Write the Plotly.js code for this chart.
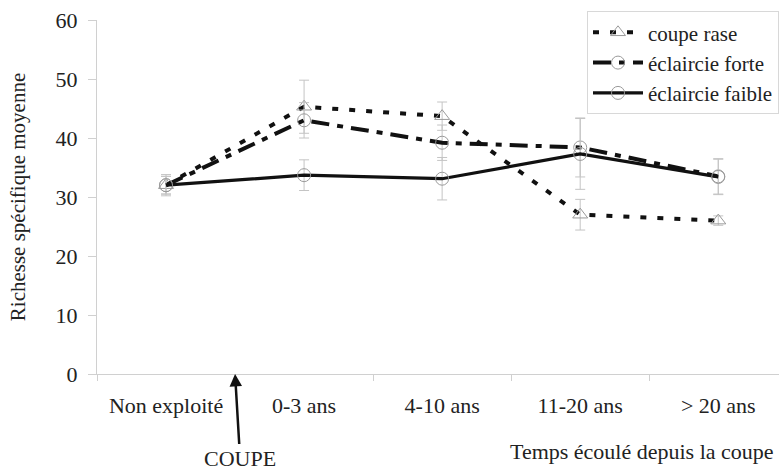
<!DOCTYPE html>
<html>
<head>
<meta charset="utf-8">
<script src="https://cdn.plot.ly/plotly-3.0.1.min.js"></script>
<style>html,body{margin:0;padding:0;background:#fff;}#chart{width:779px;height:472px;}</style>
</head>
<body>
<div id="chart"></div>
<script>
var categories = ["Non exploité", "0-3 ans", "4-10 ans", "11-20 ans", "> 20 ans"];
var coupeRase = [32, 45.3, 43.7, 27, 26];
var coupeRaseErr = [1.8, 4.5, 2.4, 2.6, 0.8];
var eclForte = [32, 43, 39.2, 38.4, 33.5];
var eclForteErr = [1.5, 3, 3, 5, 3];
var eclFaible = [32, 33.7, 33.1, 37.3, 33.4];
var eclFaibleErr = [1.5, 2.6, 3.6, 6, 3];
var yTicks = [0, 10, 20, 30, 40, 50, 60];

var serif = "'Liberation Serif', 'Times New Roman', serif";
var errStyle = function (arr) {
  return {type: "data", array: arr, visible: true, color: "#c4c4c4", thickness: 1, width: 5};
};

var traces = [
  {
    x: categories, y: coupeRase, name: "coupe rase", type: "scatter", mode: "lines+markers",
    line: {color: "#111", width: 4, dash: "6px,11px"},
    marker: {symbol: "triangle-up-open", size: 13, color: "#9a9a9a", line: {width: 1}},
    error_y: errStyle(coupeRaseErr)
  },
  {
    x: categories, y: eclForte, name: "éclaircie forte", type: "scatter", mode: "lines+markers",
    line: {color: "#111", width: 4, dash: "18px,8px,6px,8px"},
    marker: {symbol: "circle-open", size: 13, color: "#9a9a9a", line: {width: 1}},
    error_y: errStyle(eclForteErr)
  },
  {
    x: categories, y: eclFaible, name: "éclaircie faible", type: "scatter", mode: "lines+markers",
    line: {color: "#111", width: 3.2},
    marker: {symbol: "circle-open", size: 13, color: "#9a9a9a", line: {width: 1}},
    error_y: errStyle(eclFaibleErr)
  }
];

var layout = {
  width: 779, height: 472,
  margin: {l: 97, r: 0, t: 20, b: 98},
  paper_bgcolor: "#fff", plot_bgcolor: "#fff",
  font: {family: serif, size: 22, color: "#222"},
  showlegend: true,
  legend: {
    x: 1, xanchor: "right", y: 1.025, yanchor: "top",
    bgcolor: "#fff", bordercolor: "#d8d8d8", borderwidth: 1,
    font: {family: serif, size: 21, color: "#222"},
    tracegroupgap: 0, itemwidth: 50
  },
  xaxis: {
    type: "category", range: [-0.5, 4.44],
    showgrid: false, zeroline: false,
    showline: true, linecolor: "#d0d0d0", linewidth: 1,
    ticks: "outside", tickson: "boundaries", ticklen: 6, tickcolor: "#d0d0d0",
    ticklabelstandoff: 12,
    tickfont: {family: serif, size: 22, color: "#222"}
  },
  yaxis: {
    range: [0, 60], tickvals: yTicks,
    showgrid: false, zeroline: false,
    showline: true, linecolor: "#d0d0d0", linewidth: 1,
    ticks: "outside", ticklen: 8, tickcolor: "#d0d0d0",
    ticklabelstandoff: 6,
    tickfont: {family: serif, size: 22, color: "#222"},
    title: {text: "Richesse spécifique moyenne", font: {family: serif, size: 21, color: "#222"}, standoff: 24}
  },
  annotations: [
    {
      x: 0.5, y: 0, xref: "x", yref: "y",
      text: "COUPE", showarrow: true,
      ax: 5, ay: 84, axref: "pixel", ayref: "pixel",
      arrowhead: 2, arrowsize: 1, arrowwidth: 2.5, arrowcolor: "#111",
      font: {family: serif, size: 22, color: "#222"}
    },
    {
      x: 1, y: -0.218, xref: "paper", yref: "paper",
      xanchor: "right", yanchor: "middle", xshift: -3,
      text: "Temps écoulé depuis la coupe", showarrow: false,
      font: {family: serif, size: 22, color: "#222"}
    }
  ]
};

Plotly.newPlot("chart", traces, layout, {displayModeBar: false, staticPlot: true});
</script>
</body>
</html>
